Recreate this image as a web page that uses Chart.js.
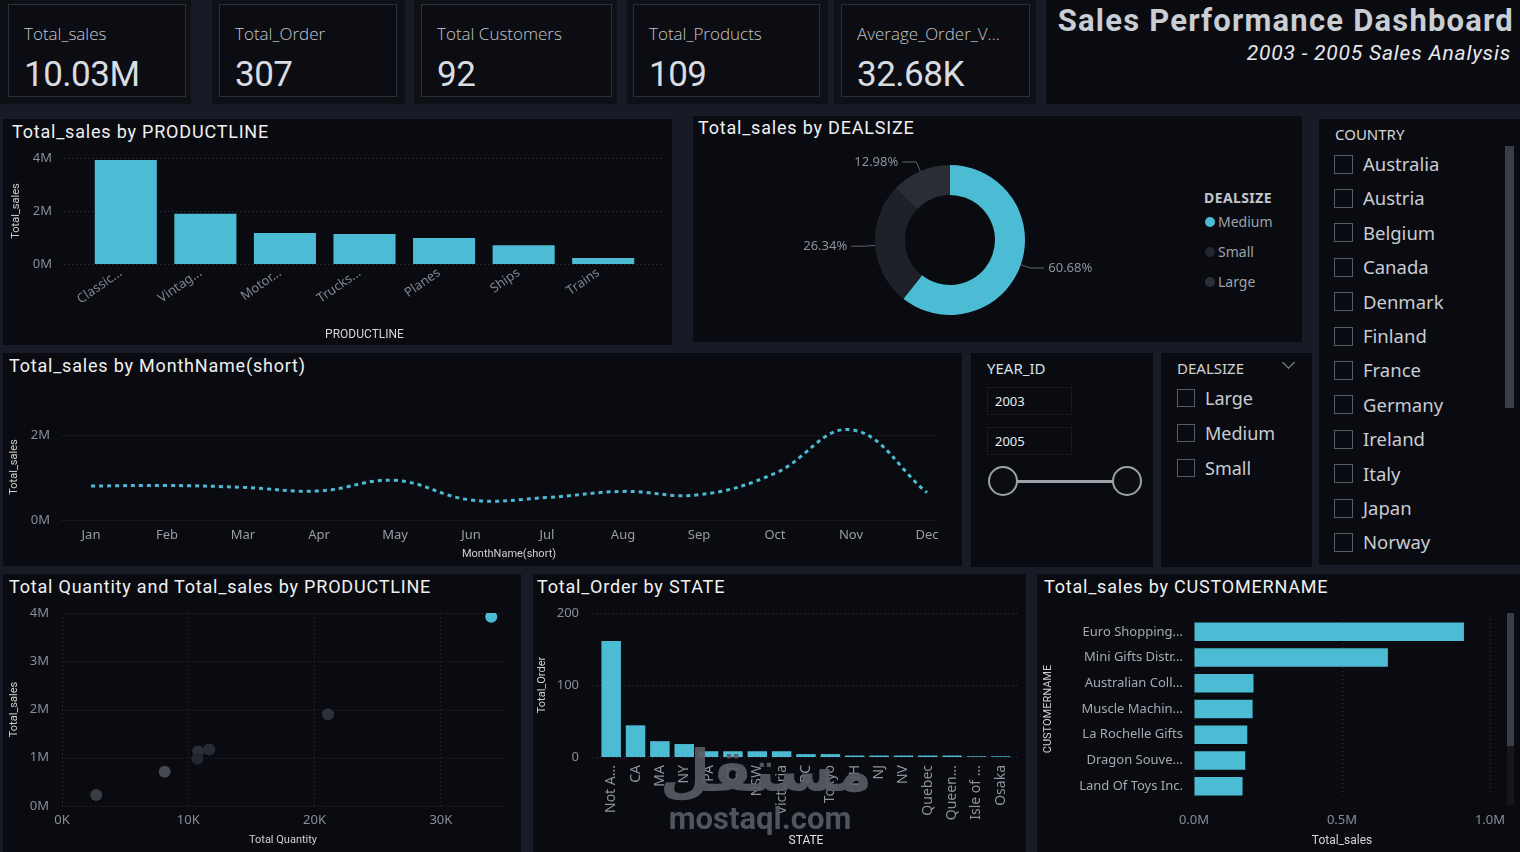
<!DOCTYPE html>
<html>
<head>
<meta charset="utf-8">
<title>Sales Performance Dashboard</title>
<script src="https://cdn.jsdelivr.net/npm/chart.js@4"></script>
<style>
  html, body { margin: 0; padding: 0; }
  body { width: 1520px; height: 852px; background: #181b25; position: relative; overflow: hidden; font-family: Roboto, sans-serif; }
  .abs { position: absolute; white-space: nowrap; }
  .panel { position: absolute; background: #0a0b10; }
  .title { position: absolute; color: #f0f0f0; font-size: 18px; line-height: 22px; white-space: nowrap; letter-spacing: 0.8px; }
  .chk { position: absolute; box-sizing: border-box; border: 1px solid #575b65; }
  .item { position: absolute; color: #c9ccd2; font-family: "Noto Sans", sans-serif; white-space: nowrap; }
  .wrap { position: absolute; }
</style>
</head>
<body>
<script>
const cyan = '#4bbcd3';

// KPI cards
const kpiNames = ['Total_sales', 'Total_Order', 'Total Customers', 'Total_Products', 'Average_Order_V...'];
const kpiValues = ['10.03M', '307', '92', '109', '32.68K'];

// sales and quantity by product line
const productLines = ['Classic...', 'Vintag...', 'Motor...', 'Trucks...', 'Planes', 'Ships', 'Trains'];
const productSales = [3920000, 1900000, 1170000, 1130000, 980000, 710000, 230000];
const productQty = [33990, 21070, 11660, 10780, 10730, 8130, 2710];

// deal size share (%)
const dealSizes = ['Medium', 'Small', 'Large'];
const dealShare = [60.68, 26.34, 12.98];

// monthly sales
const months = ['Jan', 'Feb', 'Mar', 'Apr', 'May', 'Jun', 'Jul', 'Aug', 'Sep', 'Oct', 'Nov', 'Dec'];
const monthSales = [800000, 815000, 770000, 685000, 935000, 470000, 530000, 675000, 595000, 1100000, 2130000, 645000];

// orders by state
const states = ['Not A...', 'CA', 'MA', 'NY', 'PA', 'CT', 'NSW', 'Victoria', 'BC', 'Tokyo', 'NH', 'NJ', 'NV', 'Quebec', 'Queen...', 'Isle of ...', 'Osaka'];
const stateOrders = [161, 44, 22, 18, 8, 8, 8, 8, 4, 4, 2, 2, 2, 2, 2, 1, 1];

// top customers
const customers = ['Euro Shopping...', 'Mini Gifts Distr...', 'Australian Coll...', 'Muscle Machin...', 'La Rochelle Gifts', 'Dragon Souve...', 'Land Of Toys Inc.'];
const customerSales = [912000, 655000, 201000, 198000, 180000, 173000, 164000];

// slicers
const countries = ['Australia', 'Austria', 'Belgium', 'Canada', 'Denmark', 'Finland', 'France', 'Germany', 'Ireland', 'Italy', 'Japan', 'Norway'];
const years = ['2003', '2005'];
const dealSlicer = ['Large', 'Medium', 'Small'];

// styles
const dealColors = [cyan, '#1f2129', '#2a2c36'];
const dealDots = [cyan, '#23252d', '#2d2f38'];
const scatterColors = [cyan, '#2e313b', '#272a33', '#2b2e37', '#23262f', '#46484f', '#3a3c44'];
const gridColor = '#30333c';

function div(cls, l, t, w, h, text, css) {
  const d = document.createElement('div');
  d.className = cls;
  d.style.left = l + 'px'; d.style.top = t + 'px';
  if (w != null) d.style.width = w + 'px';
  if (h != null) d.style.height = h + 'px';
  if (text != null) d.textContent = text;
  if (css) Object.assign(d.style, css);
  document.body.appendChild(d);
  return d;
}
function canvasAt(id, l, t, w, h) {
  const d = div('wrap', l, t, w, h);
  const c = document.createElement('canvas');
  c.id = id;
  d.appendChild(c);
  return c;
}

// ---- KPI row ----
const kpiOuter = [[0, 191], [212, 405], [414, 617], [627, 828], [834, 1036]];
const kpiInner = [[8, 186], [219, 397], [421, 612], [633, 820], [841, 1030]];
kpiNames.forEach((n, i) => {
  div('abs', kpiOuter[i][0], 0, kpiOuter[i][1] - kpiOuter[i][0], 104, null, { background: '#0e1016' });
  div('abs', kpiInner[i][0], 4, kpiInner[i][1] - kpiInner[i][0] - 2, 91, null,
    { background: '#0b0d12', border: '1px solid #2b2f39' });
  div('abs', kpiInner[i][0] + 16, 22, null, null, n,
    { color: '#c3c6cc', fontFamily: '"Open Sans", sans-serif', fontSize: '17px', fontWeight: '300', lineHeight: '24px' });
  div('abs', kpiInner[i][0] + 16, 54, null, null, kpiValues[i],
    { color: '#d9dce1', fontFamily: 'Roboto, sans-serif', fontSize: '35px', lineHeight: '42px', letterSpacing: '-0.5px' });
});
div('panel', 1046, 0, 474, 104);
div('abs', 1030, 2, 484, null, 'Sales Performance Dashboard',
  { color: '#c9cdd4', fontSize: '31px', fontWeight: '700', textAlign: 'right', lineHeight: '38px', letterSpacing: '1.2px' });
div('abs', 1030, 40, 481, null, '2003 - 2005 Sales Analysis',
  { color: '#e6e8ec', fontSize: '21px', fontStyle: 'italic', textAlign: 'right', lineHeight: '26px', letterSpacing: '0.8px' });

// ---- panels ----
div('panel', 3, 119, 669, 226);
div('panel', 693, 116, 609, 226);
div('panel', 1319, 119, 201, 446);
div('panel', 3, 353, 959, 213);
div('panel', 971, 353, 182, 214);
div('panel', 1161, 353, 151, 214);
div('panel', 3, 574, 518, 278);
div('panel', 533, 574, 493, 278);
div('panel', 1037, 574, 483, 278);

div('title', 12, 121, null, null, 'Total_sales by PRODUCTLINE');
div('title', 698, 117, null, null, 'Total_sales by DEALSIZE');
div('title', 9, 355, null, null, 'Total_sales by MonthName(short)');
div('title', 9, 576, null, null, 'Total Quantity and Total_sales by PRODUCTLINE');
div('title', 537, 576, null, null, 'Total_Order by STATE');
div('title', 1044, 576, null, null, 'Total_sales by CUSTOMERNAME');

// ---- donut legend ----
div('abs', 1204, 188, null, null, 'DEALSIZE',
  { color: '#c3c6cd', fontFamily: '"Noto Sans", sans-serif', fontSize: '14px', fontWeight: '700', lineHeight: '20px', letterSpacing: '0.4px' });
dealSizes.forEach((n, i) => {
  div('abs', 1205, 217 + i * 30, 10, 10, null, { background: dealDots[i], borderRadius: '50%' });
  div('abs', 1218, 212 + i * 30, null, null, n,
    { color: '#9ea2aa', fontFamily: '"Noto Sans", sans-serif', fontSize: '14px', lineHeight: '20px' });
});

// ---- country slicer ----
div('abs', 1335, 124, null, null, 'COUNTRY',
  { color: '#d4d6da', fontFamily: '"Noto Sans", sans-serif', fontSize: '15px', lineHeight: '20px' });
countries.forEach((c, i) => {
  const cy = 164 + i * 34.4;
  div('chk', 1334, cy - 9.5, 19, 19);
  div('item', 1363, cy - 13, null, null, c, { fontSize: '18.5px', lineHeight: '26px' });
});
div('abs', 1505, 146, 9, 262, null, { background: '#3a3d47' });

// ---- year slicer ----
div('abs', 987, 358, null, null, 'YEAR_ID',
  { color: '#d3e2e8', fontFamily: '"Noto Sans", sans-serif', fontSize: '15px', lineHeight: '20px' });
years.forEach((y, i) => {
  div('abs', 987, 387 + i * 40, 85, 28, null, { border: '1px dotted #23262e', boxSizing: 'border-box' });
  div('abs', 995, 392 + i * 40, null, null, y,
    { color: '#e8eef2', fontFamily: '"Noto Sans", sans-serif', fontSize: '13px', lineHeight: '18px' });
});
div('abs', 1003, 480, 124, 3, null, { background: '#9ea2a8' });
[1003, 1127].forEach(x => div('abs', x - 15, 466, 30, 30, null,
  { border: '2px solid #9ea2a8', borderRadius: '50%', background: '#0b0d12', boxSizing: 'border-box' }));

// ---- deal size slicer ----
div('abs', 1177, 358, null, null, 'DEALSIZE',
  { color: '#d0d2d6', fontFamily: '"Noto Sans", sans-serif', fontSize: '15px', lineHeight: '20px' });
div('abs', 1284, 358, 8, 8, null, { borderRight: '1px solid #9a9ea6', borderBottom: '1px solid #9a9ea6', transform: 'rotate(45deg)' });
dealSlicer.forEach((d, i) => {
  const cy = 398 + i * 35;
  div('chk', 1177, cy - 9, 18, 18);
  div('item', 1205, cy - 13, null, null, d, { fontSize: '18px', lineHeight: '26px' });
});

// ---- customer scrollbar ----
div('abs', 1507, 613, 7, 192, null, { background: '#15171d' });
div('abs', 1507, 613, 7, 133, null, { background: '#3a3d47' });

// ---- chart setup ----
Chart.defaults.font.family = 'Roboto, sans-serif';
Chart.defaults.color = '#8a8d96';
Chart.defaults.animation = false;
Chart.defaults.plugins.legend.display = false;
Chart.defaults.plugins.tooltip.enabled = false;

const tickFont = s => ({ family: '"Noto Sans", sans-serif', size: s });
const every = (step, fmt) => v => (Math.abs(v % step) < 1e-6 ? fmt(v) : '');
const million = v => v / 1e6 + 'M';
const noGrid = { display: false, drawTicks: false };

// fixed axis box sizes, no extra padding from the labels
const fixW = w => s => { s.width = w; s.paddingTop = 0; s.paddingBottom = 0; };
const fixH = h => s => { s.height = h; s.paddingLeft = 0; s.paddingRight = 0; };

// dotted horizontal grid drawn a little beyond the plot area (only where a label is shown)
const gridExt = {
  id: 'gridExt',
  beforeDatasetsDraw(chart, args, opts) {
    const y = chart.scales.y, a = chart.chartArea, ctx = chart.ctx;
    ctx.save();
    ctx.strokeStyle = gridColor; ctx.lineWidth = 1; ctx.setLineDash([1, 3]);
    y.ticks.forEach(t => {
      if (!t.label) return;
      const py = Math.round(y.getPixelForValue(t.value)) + 0.5;
      ctx.beginPath(); ctx.moveTo(a.left - opts.l, py); ctx.lineTo(a.right + opts.r, py); ctx.stroke();
    });
    ctx.restore();
  }
};

// percentage labels with leader lines
const donutLabels = {
  id: 'donutLabels',
  afterDatasetsDraw(chart) {
    const ctx = chart.ctx, meta = chart.getDatasetMeta(0);
    ctx.save();
    ctx.strokeStyle = '#60636c'; ctx.lineWidth = 1;
    ctx.fillStyle = '#8d9099'; ctx.font = '13px "Noto Sans"'; ctx.textBaseline = 'middle';
    meta.data.forEach((arc, i) => {
      const p = arc.getProps(['x', 'y', 'startAngle', 'endAngle', 'outerRadius'], true);
      const mid = (p.startAngle + p.endAngle) / 2;
      const cx = Math.cos(mid), cy = Math.sin(mid);
      const x1 = p.x + cx * p.outerRadius, y1 = p.y + cy * p.outerRadius;
      const x2 = p.x + cx * (p.outerRadius + 10), y2 = p.y + cy * (p.outerRadius + 10);
      const dir = cx >= 0 ? 1 : -1, x3 = x2 + dir * 14;
      ctx.beginPath(); ctx.moveTo(x1, y1); ctx.lineTo(x2, y2); ctx.lineTo(x3, y2); ctx.stroke();
      ctx.textAlign = dir > 0 ? 'left' : 'right';
      ctx.fillText(chart.data.datasets[0].data[i].toFixed(2) + '%', x3 + dir * 4, y2);
    });
    ctx.restore();
  }
};

const axisTitle = (text, size, pad, color) => ({
  display: true, text: text, color: color || '#cfcfcf', font: { size: size }, padding: pad
});

// Total_sales by PRODUCTLINE
new Chart(canvasAt('cProd', 3, 145, 669, 200), {
  type: 'bar',
  data: { labels: productLines, datasets: [{ data: productSales, backgroundColor: cyan, barPercentage: 0.78, categoryPercentage: 1 }] },
  options: {
    responsive: true, maintainAspectRatio: false,
    layout: { padding: { left: 0, top: 13, right: 29, bottom: 0 } },
    plugins: { gridExt: { l: 22, r: 20 } },
    scales: {
      x: {
        grid: noGrid, border: { display: false },
        ticks: { color: '#7f838e', font: tickFont(13), minRotation: 35, maxRotation: 35, autoSkip: false, padding: 1, labelOffset: -5 },
        title: axisTitle('PRODUCTLINE', 12, { top: 0, bottom: 3 }, '#d6d6d6'),
        afterFit: fixH(81)
      },
      y: {
        min: 0, max: 4000000, grid: noGrid, border: { display: false },
        ticks: { stepSize: 2000000, autoSkip: false, color: '#8a8d96', font: tickFont(13), padding: 34, callback: million },
        title: axisTitle('Total_sales', 11, { top: 7, bottom: 0 }),
        afterFit: fixW(83)
      }
    }
  },
  plugins: [gridExt]
});

// Total_sales by DEALSIZE
new Chart(canvasAt('cDeal', 770, 150, 360, 180), {
  type: 'doughnut',
  data: { labels: dealSizes, datasets: [{ data: dealShare, backgroundColor: dealColors, borderWidth: 0 }] },
  options: {
    responsive: true, maintainAspectRatio: false, cutout: '60%',
    layout: { padding: 15 }
  },
  plugins: [donutLabels]
});

// Total_sales by MonthName(short)
new Chart(canvasAt('cMonth', 3, 380, 959, 186), {
  type: 'line',
  data: { labels: months, datasets: [{
    data: monthSales, borderColor: cyan, borderWidth: 3, borderDash: [4, 4], tension: 0.4, pointRadius: 0, fill: false
  }] },
  options: {
    responsive: true, maintainAspectRatio: false,
    layout: { padding: { left: 0, top: 34, right: 35, bottom: 0 } },
    plugins: { gridExt: { l: 29, r: 11 } },
    scales: {
      x: {
        offset: false, grid: noGrid, border: { display: false },
        ticks: { color: '#9a9da5', font: tickFont(13), padding: 7, maxRotation: 0, autoSkip: false },
        title: axisTitle('MonthName(short)', 11, { top: 0, bottom: 5 }, '#d0d0d0'),
        afterFit: fixH(46)
      },
      y: {
        min: 0, max: 2500000, grid: noGrid, border: { display: false },
        ticks: { stepSize: 500000, autoSkip: false, color: '#8a8d96', font: tickFont(13), padding: 41, callback: every(2000000, million) },
        title: axisTitle('Total_sales', 11, { top: 5, bottom: 0 }),
        afterFit: fixW(88)
      }
    }
  },
  plugins: [gridExt]
});

// Total Quantity and Total_sales by PRODUCTLINE
new Chart(canvasAt('cScatter', 3, 600, 518, 252), {
  type: 'scatter',
  data: { datasets: [{
    data: productQty.map((q, i) => ({ x: q, y: productSales[i] })),
    backgroundColor: scatterColors, borderWidth: 0, pointRadius: 6, pointHoverRadius: 6
  }] },
  options: {
    responsive: true, maintainAspectRatio: false,
    layout: { padding: { left: 0, top: 13, right: 17, bottom: 0 } },
    plugins: { gridExt: { l: 0, r: 0 } },
    scales: {
      x: {
        min: 0, max: 35000,
        grid: { drawTicks: false, color: c => (c.tick && c.tick.value % 10000 === 0 ? gridColor : 'rgba(0,0,0,0)') },
        border: { display: false, dash: [1, 3] },
        ticks: { stepSize: 5000, autoSkip: false, color: '#8a8d96', font: tickFont(13), padding: 6, callback: every(10000, v => v / 1000 + 'K') },
        title: axisTitle('Total Quantity', 11, { top: 0, bottom: 5 }, '#d0d0d0'),
        afterFit: fixH(46)
      },
      y: {
        min: 0, max: 4000000,
        grid: noGrid, border: { display: false },
        ticks: { stepSize: 1000000, autoSkip: false, color: '#8a8d96', font: tickFont(13), padding: 13, callback: million },
        title: axisTitle('Total_sales', 11, { top: 5, bottom: 0 }),
        afterFit: fixW(59)
      }
    }
  },
  plugins: [gridExt]
});

// Total_Order by STATE
new Chart(canvasAt('cState', 532, 600, 494, 252), {
  type: 'bar',
  data: { labels: states, datasets: [{ data: stateOrders, backgroundColor: cyan, barPercentage: 0.8, categoryPercentage: 1 }] },
  options: {
    responsive: true, maintainAspectRatio: false,
    layout: { padding: { left: 0, top: 13, right: 13, bottom: 0 } },
    plugins: { gridExt: { l: 7, r: 5 } },
    scales: {
      x: {
        grid: noGrid, border: { display: false },
        ticks: { color: '#8f929b', font: tickFont(14), minRotation: 90, maxRotation: 90, autoSkip: false, padding: 8 },
        title: axisTitle('STATE', 12, { top: 0, bottom: 4 }, '#e0e0e0'),
        afterFit: fixH(95)
      },
      y: {
        min: 0, max: 200, grid: noGrid, border: { display: false },
        ticks: { stepSize: 100, autoSkip: false, color: '#8a8d96', font: tickFont(13), padding: 20 },
        title: axisTitle('Total_Order', 11, { top: 4, bottom: 0 }),
        afterFit: fixW(67)
      }
    }
  },
  plugins: [gridExt]
});

// Total_sales by CUSTOMERNAME
new Chart(canvasAt('cCust', 1037, 600, 483, 252), {
  type: 'bar',
  data: { labels: customers, datasets: [{ data: customerSales, backgroundColor: cyan, barPercentage: 0.72, categoryPercentage: 1 }] },
  options: {
    indexAxis: 'y',
    responsive: true, maintainAspectRatio: false,
    layout: { padding: { left: 0, top: 19, right: 30, bottom: 0 } },
    scales: {
      x: {
        min: 0, max: 1000000,
        grid: { color: gridColor, drawTicks: false }, border: { display: false, dash: [1, 3] },
        ticks: { stepSize: 500000, autoSkip: false, color: '#8a8d96', font: tickFont(13), padding: 13, callback: v => (v / 1e6).toFixed(1) + 'M' },
        title: axisTitle('Total_sales', 12, { top: 0, bottom: 4 }, '#d6d6d6'),
        afterFit: fixH(53)
      },
      y: {
        grid: noGrid, border: { display: false },
        ticks: { color: '#a6a9b1', font: tickFont(13), padding: 11, autoSkip: false },
        title: axisTitle('CUSTOMERNAME', 11, { top: 5, bottom: 0 }),
        afterFit: fixW(157)
      }
    }
  }
});

// site watermark over the state chart
div('abs', 660, 738, 200, null, 'مستقل',
  { color: 'rgba(88,91,100,0.92)', fontFamily: '"DejaVu Sans", sans-serif', fontSize: '58px', fontWeight: '700',
    textAlign: 'center', lineHeight: '66px', zIndex: 5 });
div('abs', 660, 802, 200, null, 'mostaql.com',
  { color: 'rgba(88,91,100,0.92)', fontFamily: 'Roboto, sans-serif', fontSize: '31px', fontWeight: '700',
    textAlign: 'center', lineHeight: '34px', zIndex: 5 });
</script>
</body>
</html>
